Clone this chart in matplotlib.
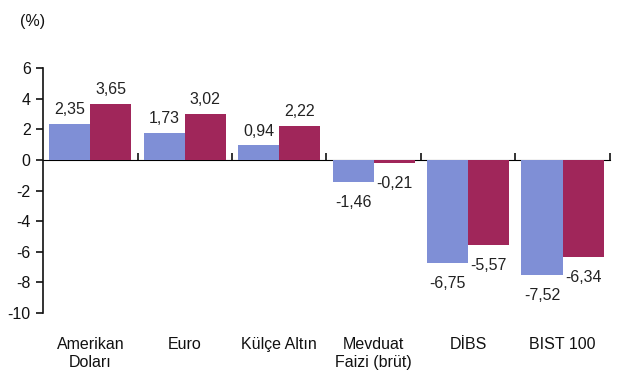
import matplotlib
matplotlib.use("Agg")
import matplotlib.pyplot as plt
import numpy as np
from matplotlib.ticker import NullFormatter

plt.rcParams['font.family'] = ['Liberation Sans', 'DejaVu Sans']

categories = ["Amerikan\nDoları", "Euro", "Külçe Altın", "Mevduat\nFaizi (brüt)", "DİBS", "BIST 100"]
series_a = [2.35, 1.73, 0.94, -1.46, -6.75, -7.52]
series_b = [3.65, 3.02, 2.22, -0.21, -5.57, -6.34]
yticks = [6, 4, 2, 0, -2, -4, -6, -8, -10]

def fmt(v):
    return f"{v:.2f}".replace(".", ",")

FS = 11.5
fig = plt.figure(figsize=(6.26, 3.88), dpi=100)
ax = fig.add_axes([0.069, 0.193, 0.905, 0.632])

x = np.arange(len(categories))
w = 0.435
bars_a = ax.bar(x - w/2, series_a, w, color='#7f8fd6', zorder=2)
bars_b = ax.bar(x + w/2, series_b, w, color='#a0265a', zorder=2)

for bars, vals in ((bars_a, series_a), (bars_b, series_b)):
    for b, v in zip(bars, vals):
        cx = b.get_x() + b.get_width()/2
        if v >= 0:
            ax.annotate(fmt(v), (cx, v), xytext=(0, 5), textcoords='offset points',
                        ha='center', va='bottom', fontsize=FS, color='#222222')
        else:
            ax.annotate(fmt(v), (cx, v), xytext=(0, -9), textcoords='offset points',
                        ha='center', va='top', fontsize=FS, color='#222222')

ax.set_xlim(-0.5, len(categories) - 0.5)
ax.set_ylim(-10, 6)
ax.set_yticks(yticks)
ax.set_yticklabels([str(t) for t in yticks], fontsize=FS)
ax.tick_params(axis='y', direction='out', length=5, width=1.2, pad=4, colors='#111111')

ax.set_xticks(x)
ax.set_xticklabels(categories, fontsize=FS, color='#111111', linespacing=1.3)
ax.tick_params(axis='x', length=0, pad=17)

for s in ('top', 'right', 'bottom'):
    ax.spines[s].set_visible(False)
ax.spines['left'].set_linewidth(1.2)
ax.spines['left'].set_color('#111111')

frac = (0 - (-10)) / (6 - (-10))
sec = ax.secondary_xaxis(frac)
sec.set_xticks(np.arange(len(categories)) + 0.5)
sec.xaxis.set_major_formatter(NullFormatter())
sec.tick_params(axis='x', direction='out', length=5, width=1.2, colors='#111111')
sec.spines['bottom'].set_linewidth(1.2)
sec.spines['bottom'].set_color('#111111')

fig.text(0.032, 0.945, "(%)", fontsize=FS, ha='left', va='center', color='#111111')

fig.savefig("out.png", dpi=100, facecolor='white')
